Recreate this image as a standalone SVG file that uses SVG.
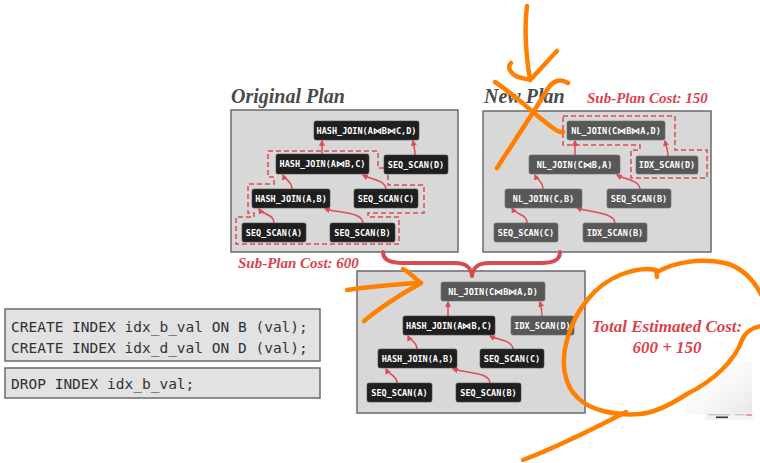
<svg xmlns="http://www.w3.org/2000/svg" width="760" height="463" viewBox="0 0 760 463">
  <defs>
    <marker id="ah" viewBox="0 0 10 10" refX="8" refY="5" markerWidth="6" markerHeight="6" markerUnits="userSpaceOnUse" orient="auto">
      <path d="M0,0 L10,5 L0,10 z" fill="#e04a52"/>
    </marker>
    <linearGradient id="fade" x1="0" y1="0" x2="1" y2="1">
      <stop offset="0" stop-color="#ffffff" stop-opacity="0"/>
      <stop offset="1" stop-color="#e6e6e6"/>
    </linearGradient>
    <style>
      .panel { fill: #d8d8d8; stroke: #6a6a6a; stroke-width: 1.5; }
      .code { fill: #e2e2e2; stroke: #6a6a6a; stroke-width: 1.5; }
      .n rect { fill: #1f1f1f; stroke: #4a4a4a; stroke-width: 0.6; }
      .g rect { fill: #585858; stroke: #6e6e6e; stroke-width: 0.6; }
      .n text, .g text { font-family: "DejaVu Sans Mono", monospace; font-size: 8.5px; font-weight: bold; fill: #ffffff; text-anchor: middle; }
      .title { font-family: "Liberation Serif", serif; font-style: italic; font-weight: bold; font-size: 20px; fill: #4a4a4a; }
      .cost { font-family: "Liberation Serif", serif; font-style: italic; font-weight: bold; font-size: 15px; fill: #d9434e; }
      .total { font-family: "Liberation Serif", serif; font-style: italic; font-weight: bold; font-size: 17px; fill: #d9434e; text-anchor: middle; }
      .sql { font-family: "DejaVu Sans Mono", monospace; font-size: 14.5px; fill: #333333; }
      .edge { fill: none; stroke: #e04a52; stroke-width: 1.5; marker-end: url(#ah); }
      .sub { fill: none; stroke: #e04a52; stroke-width: 1.5; stroke-dasharray: 5 3; }
      .brace { fill: none; stroke: #d84a52; stroke-width: 4; stroke-linecap: round; stroke-linejoin: round; }
      .ink { fill: none; stroke: #ff8000; stroke-width: 4.5; stroke-linecap: round; stroke-linejoin: round; }
    </style>
  </defs>

  <rect width="760" height="463" fill="#ffffff"/>

  <!-- faded thumbnail corner -->
  <g id="thumb">
    <rect x="686" y="362" width="66" height="52" fill="url(#fade)"/>
    <rect x="705" y="413" width="48" height="7" fill="#f2f2f2"/>
    <rect x="708" y="414.5" width="22" height="0.7" fill="#9a9a9a"/>
    <rect x="716" y="416.5" width="12" height="1.6" fill="#333333"/>
    <rect x="735" y="414.5" width="10" height="0.7" fill="#9a9a9a"/>
    <rect x="746" y="414.5" width="6" height="1" fill="#d44a4a"/>
  </g>

  <!-- Original plan -->
  <text class="title" x="231" y="103">Original Plan</text>
  <rect class="panel" x="231" y="110" width="227" height="142"/>
  <path class="sub" d="M268,151 H378 V168 H388 V185 H424 V213 H368 V217 H399 V244 H236 V217 H254 V213 H248 V184 H274 V177 H268 Z"/>
  <text class="cost" x="238" y="268">Sub-Plan Cost: 600</text>

  <!-- New plan -->
  <text class="title" x="484" y="103">New Plan</text>
  <text class="cost" x="587" y="103">Sub-Plan Cost: 150</text>
  <rect class="panel" x="483" y="111" width="228" height="141"/>
  <path class="sub" d="M563,116 H675 V150 H707 V178 H631 V150 H640 V145 H563 Z"/>

  <!-- Combined plan -->
  <rect class="panel" x="357" y="271" width="228" height="142"/>
  <path class="brace" d="M383,252 C383,260 390,263 403,263 L455,263 C467,263 471,268 472,276 C473,268 477,263 489,263 L541,263 C554,263 560,260 560,252"/>

  <!-- SQL -->
  <g id="sql-create">
    <rect class="code" x="5" y="309" width="315" height="52"/>
    <text class="sql" x="11" y="332">CREATE INDEX idx_b_val ON B (val);</text>
    <text class="sql" x="11" y="353">CREATE INDEX idx_d_val ON D (val);</text>
  </g>
  <g id="sql-drop">
    <rect class="code" x="5" y="368" width="315" height="30"/>
    <text class="sql" x="11" y="389">DROP INDEX idx_b_val;</text>
  </g>

  <text class="total" x="667" y="332">Total Estimated Cost:</text>
  <text class="total" x="667" y="353">600 + 150</text>

  <!-- Connectors -->
  <g id="connectors">
    <path class="edge" d="M274,223 C274,214 263,215 259,209"/>
    <path class="edge" d="M363,223 C362,212 340,213 325,209"/>
    <path class="edge" d="M292,189 C292,181 285,180 283,175"/>
    <path class="edge" d="M386,189 C385,180 372,180 363,175"/>
    <path class="edge" d="M322,154 L322,141"/>
    <path class="edge" d="M415,155 C415,149 414,146 413,141"/>

    <path class="edge" d="M527,223 C527,214 516,215 512,208"/>
    <path class="edge" d="M615,223 C614,212 592,213 577,208"/>
    <path class="edge" d="M543,189 C543,181 537,180 535,175"/>
    <path class="edge" d="M640,189 C639,180 626,180 617,175"/>
    <path class="edge" d="M575,155 L575,141"/>
    <path class="edge" d="M668,156 C668,150 666,146 665,141"/>

    <path class="edge" d="M397,383 C397,375 389,375 386,369"/>
    <path class="edge" d="M490,383 C489,372 467,373 453,369"/>
    <path class="edge" d="M417,349 C417,342 410,340 408,336"/>
    <path class="edge" d="M513,349 C512,340 498,340 490,336"/>
    <path class="edge" d="M448,316 L448,302"/>
    <path class="edge" d="M542,316 C542,310 541,306 540,302"/>
  </g>

  <!-- Original plan nodes -->
  <g id="o-hj-abc-d" class="n"><rect x="314" y="121" width="105" height="19" rx="2"/><text x="366.5" y="133.5">HASH_JOIN(A⋈B⋈C,D)</text></g>
  <g id="o-hj-ab-c" class="n"><rect x="276" y="154" width="93" height="20" rx="2"/><text x="322.5" y="167">HASH_JOIN(A⋈B,C)</text></g>
  <g id="o-seq-d" class="n"><rect x="384" y="155" width="64" height="19" rx="2"/><text x="416" y="167.5">SEQ_SCAN(D)</text></g>
  <g id="o-hj-a-b" class="n"><rect x="252" y="189" width="78" height="19" rx="2"/><text x="291" y="201.5">HASH_JOIN(A,B)</text></g>
  <g id="o-seq-c" class="n"><rect x="354" y="189" width="64" height="19" rx="2"/><text x="386" y="201.5">SEQ_SCAN(C)</text></g>
  <g id="o-seq-a" class="n"><rect x="242" y="223" width="64" height="19" rx="2"/><text x="274" y="235.5">SEQ_SCAN(A)</text></g>
  <g id="o-seq-b" class="n"><rect x="330" y="223" width="65" height="19" rx="2"/><text x="362.5" y="235.5">SEQ_SCAN(B)</text></g>

  <!-- New plan nodes -->
  <g id="n-nl-cba-d" class="g"><rect x="567" y="121" width="98" height="19" rx="2"/><text x="616" y="133.5">NL_JOIN(C⋈B⋈A,D)</text></g>
  <g id="n-nl-cb-a" class="g"><rect x="529" y="155" width="91" height="19" rx="2"/><text x="574.5" y="167.5">NL_JOIN(C⋈B,A)</text></g>
  <g id="n-idx-d" class="g"><rect x="636" y="156" width="62" height="18" rx="2"/><text x="667" y="168">IDX_SCAN(D)</text></g>
  <g id="n-nl-c-b" class="g"><rect x="505" y="189" width="77" height="19" rx="2"/><text x="543.5" y="201.5">NL_JOIN(C,B)</text></g>
  <g id="n-seq-b" class="g"><rect x="607" y="189" width="64" height="19" rx="2"/><text x="639" y="201.5">SEQ_SCAN(B)</text></g>
  <g id="n-seq-c" class="g"><rect x="494" y="223" width="64" height="19" rx="2"/><text x="526" y="235.5">SEQ_SCAN(C)</text></g>
  <g id="n-idx-b" class="g"><rect x="583" y="223" width="64" height="19" rx="2"/><text x="615" y="235.5">IDX_SCAN(B)</text></g>

  <!-- Combined plan nodes -->
  <g id="c-nl-cba-d" class="g"><rect x="441" y="282" width="104" height="19" rx="2"/><text x="493" y="294.5">NL_JOIN(C⋈B⋈A,D)</text></g>
  <g id="c-hj-ab-c" class="n"><rect x="403" y="316" width="92" height="19" rx="2"/><text x="449" y="328.5">HASH_JOIN(A⋈B,C)</text></g>
  <g id="c-idx-d" class="g"><rect x="511" y="316" width="63" height="19" rx="2"/><text x="542.5" y="328.5">IDX_SCAN(D)</text></g>
  <g id="c-hj-a-b" class="n"><rect x="378" y="349" width="79" height="19" rx="2"/><text x="417.5" y="361.5">HASH_JOIN(A,B)</text></g>
  <g id="c-seq-c" class="n"><rect x="480" y="349" width="64" height="19" rx="2"/><text x="512" y="361.5">SEQ_SCAN(C)</text></g>
  <g id="c-seq-a" class="n"><rect x="367" y="383" width="65" height="19" rx="2"/><text x="399.5" y="395.5">SEQ_SCAN(A)</text></g>
  <g id="c-seq-b" class="n"><rect x="456" y="383" width="65" height="19" rx="2"/><text x="488.5" y="395.5">SEQ_SCAN(B)</text></g>

  <!-- Hand-drawn pen strokes -->
  <g id="pen">
    <path class="ink" d="M527,6 C524,30 526,55 530,80"/>
    <path class="ink" d="M511,63 C506,68 512,76 522,78 C526,79 529,80 531,79 C540,70 550,58 557,51"/>
    <path class="ink" d="M495,82 C515,95 535,115 553,128 C557,131 560,133 563,132"/>
    <path class="ink" d="M568,83 C560,78 552,81 547,90 C535,110 515,140 497,168"/>
    <path class="ink" d="M347,290 C370,287 395,284 421,283"/>
    <path class="ink" d="M403,269 C408,271 412,276 421,283 C405,292 383,305 364,321"/>
    <path class="ink" d="M762,326 C752,327 745,333 742,340 C735,360 715,380 687,394 C670,405 655,413 640,414 C615,416 590,410 578,398 C563,385 561,360 567,340 C575,310 595,285 620,275 C635,269 648,268 656,270 L657,277"/>
    <path class="ink" d="M657,272 C675,262 700,258 725,263 C745,268 757,285 764,300"/>
    <path class="ink" d="M626,412 C595,428 560,446 523,460"/>
  </g>
</svg>
